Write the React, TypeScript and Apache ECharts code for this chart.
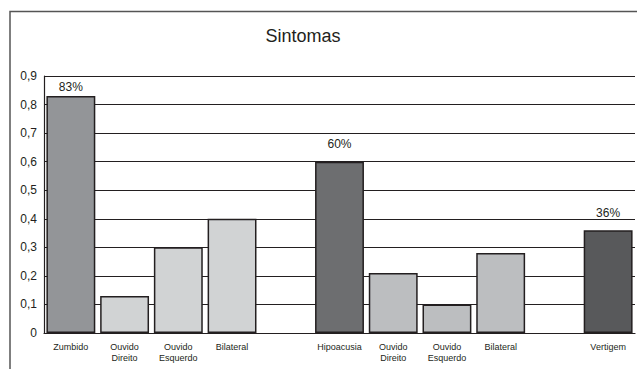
import React, { useEffect, useRef } from "react";
import * as echarts from "echarts";

// Symptom categories; empty strings are spacer slots between groups
const categories = [
  "Zumbido",
  "Ouvido\nDireito",
  "Ouvido\nEsquerdo",
  "Bilateral",
  "",
  "Hipoacusia",
  "Ouvido\nDireito",
  "Ouvido\nEsquerdo",
  "Bilateral",
  "",
  "Vertigem",
];

// Proportion of patients per symptom
const values: (number | null)[] = [0.83, 0.13, 0.3, 0.4, null, 0.6, 0.21, 0.1, 0.28, null, 0.36];

// Main symptoms get a percentage label above the bar
const mainSymptom = [true, false, false, false, false, true, false, false, false, false, true];

const barColors = [
  "#939598",
  "#d1d3d4",
  "#d1d3d4",
  "#d1d3d4",
  "#ffffff",
  "#6d6e70",
  "#bcbec0",
  "#bcbec0",
  "#bcbec0",
  "#ffffff",
  "#58595b",
];

const labelDistance = [3, 0, 0, 0, 0, 12, 0, 0, 0, 0, 11];

const yTicks = [0, 0.1, 0.2, 0.3, 0.4, 0.5, 0.6, 0.7, 0.8, 0.9];

const FONT = "'Liberation Sans', Arial, Helvetica, sans-serif";

export default function App() {
  const ref = useRef<HTMLDivElement>(null);

  useEffect(() => {
    if (!ref.current) return;
    const chart = echarts.init(ref.current, null, { renderer: "svg" });

    const data = values.map((v, i) => ({
      value: v === null ? "-" : v,
      itemStyle: { color: barColors[i] },
      label: {
        show: mainSymptom[i] && v !== null,
        distance: labelDistance[i],
      },
    }));

    chart.setOption({
      animation: false,
      backgroundColor: "#ffffff",
      title: {
        text: "Sintomas",
        left: 298,
        textAlign: "center",
        top: 22,
        textStyle: { fontFamily: FONT, fontSize: 18, fontWeight: "normal", color: "#231f20" },
      },
      graphic: [
        {
          type: "polyline",
          shape: { points: [[10, 369], [10, 11.5], [637, 11.5]] },
          style: { stroke: "#555555", lineWidth: 1.5, fill: "none" },
          silent: true,
        },
      ],
      grid: { left: 44, top: 76, right: 2, bottom: 36, containLabel: false },
      xAxis: {
        type: "category",
        data: categories,
        axisTick: { show: false },
        axisLine: { show: true, lineStyle: { color: "#231f20", width: 1.2 } },
        axisLabel: {
          interval: 0,
          margin: 8,
          fontFamily: FONT,
          fontSize: 9,
          lineHeight: 11,
          color: "#231f20",
        },
      },
      yAxis: {
        type: "value",
        min: 0,
        max: yTicks[yTicks.length - 1],
        interval: 0.1,
        axisLine: { show: true, lineStyle: { color: "#231f20", width: 1.2 } },
        axisTick: { show: false },
        splitLine: { show: true, lineStyle: { color: "#231f20", width: 1 } },
        axisLabel: {
          margin: 7,
          fontFamily: FONT,
          fontSize: 12,
          color: "#231f20",
          formatter: (v: number) => {
            const t = yTicks.find((x) => Math.abs(x - v) < 1e-9);
            return t === undefined ? "" : t === 0 ? "0" : t.toFixed(1).replace(".", ",");
          },
        },
      },
      series: [
        {
          type: "bar",
          data,
          barCategoryGap: "9%",
          itemStyle: { borderColor: "#231f20", borderWidth: 1.5 },
          label: {
            position: "top",
            fontFamily: FONT,
            fontSize: 12,
            color: "#231f20",
            formatter: (p: any) => Math.round(p.value * 100) + "%",
          },
        },
      ],
    });

    return () => chart.dispose();
  }, []);

  return (
    <div
      ref={ref}
      style={{ position: "fixed", left: 0, top: 0, width: 637, height: 369, background: "#fff" }}
    />
  );
}
